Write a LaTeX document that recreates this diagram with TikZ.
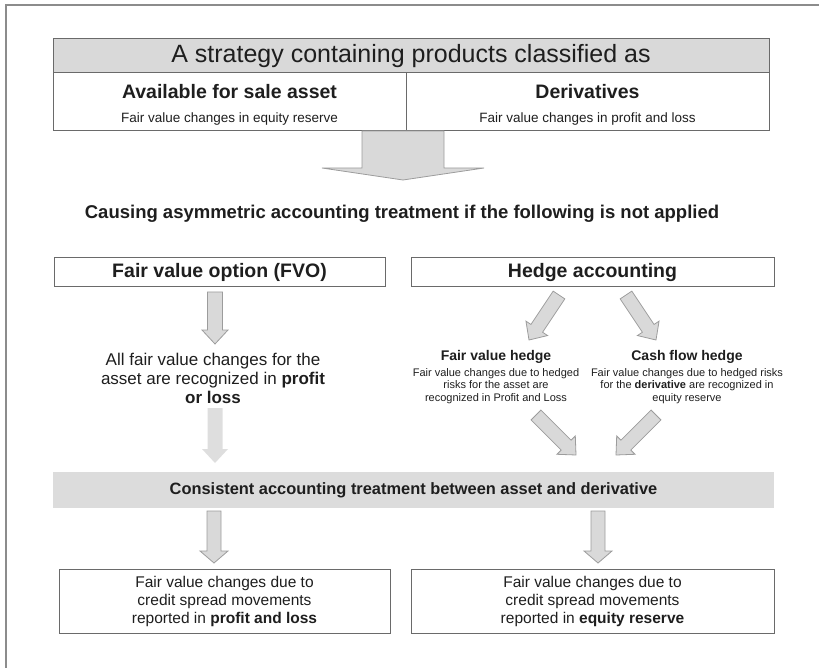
\documentclass[tikz,border=0pt]{standalone}
\usepackage{fontspec}
\setmainfont{Liberation Sans}
\usepackage{xcolor}
\usetikzlibrary{calc,positioning}

\definecolor{frameline}{HTML}{8C8C8C}
\definecolor{boxline}{HTML}{6A6A6A}
\definecolor{headfill}{HTML}{D9D9D9}
\definecolor{bandfill}{HTML}{DCDCDC}
\definecolor{arrowfill}{HTML}{D9D9D9}
\definecolor{arrowline}{HTML}{9C9C9C}
\definecolor{lightfill}{HTML}{DEDEDE}
\definecolor{textcol}{HTML}{1E1E1E}

% block arrow: [style]{start}{end}{half shaft}{half head}{head length}
\newcommand{\blockarr}[6][]{%
  \coordinate (ba-h) at ($(#3)!#6!(#2)$);
  \path[#1] ($(#2)!#4!90:(#3)$) -- ($(ba-h)!#4!90:(#3)$) -- ($(ba-h)!#5!90:(#3)$)
    -- (#3) -- ($(ba-h)!#5!-90:(#3)$) -- ($(ba-h)!#4!-90:(#3)$) -- ($(#2)!#4!-90:(#3)$) -- cycle;
}

\tikzset{
  box/.style={draw=boxline, line width=1pt, inner sep=0pt},
  fatarrow/.style={fill=arrowfill, draw=arrowline, line width=0.8pt, line join=miter},
  softarrow/.style={fill=lightfill},
  boldtext/.style={font=\bfseries\fontsize{#1}{#1}\selectfont},
  plaintext/.style={font=\fontsize{#1}{#1}\selectfont},
}

\begin{document}
\begin{tikzpicture}[x=1pt, y=-1pt, text=textcol]
\useasboundingbox (0,0) rectangle (819,668);
\draw[frameline, line width=1.5pt] (6,668) -- (6,5) -- (819,5);

% products
\node[box, fill=headfill, minimum width=716pt, minimum height=34pt, plaintext=25] (strategy) at (411,56) {A strategy containing products classified as};
\node[box, minimum width=353pt, minimum height=58pt] (afs) at (229.5,102) {};
\node[box, minimum width=363pt, minimum height=58pt] (deriv) at (587.5,102) {};
\node[boldtext=19.5] (afstitle) at (229.5,92) {Available for sale asset};
\node[plaintext=13.5] (afsnote) at (229.5,119) {Fair value changes in equity reserve};
\node[boldtext=19.5] (derivtitle) at (587.5,92) {Derivatives};
\node[plaintext=13.5] (derivnote) at (587.5,119) {Fair value changes in profit and loss};

\coordinate (bigtop) at (403,131);
\coordinate (bigtip) at (403,180);
\blockarr[fatarrow]{bigtop}{bigtip}{41pt}{81pt}{12pt}

\node[boldtext=18.5] (causing) at (402,214) {Causing asymmetric accounting treatment if the following is not applied};

% fair value option
\node[box, minimum width=331pt, minimum height=29pt, boldtext=19.5] (fvo) at (219.5,272.5) {Fair value option (FVO)};
\node[box, minimum width=363pt, minimum height=29pt, boldtext=19.5] (hedge) at (592.5,272.5) {Hedge accounting};

\coordinate (fvotop) at (215,292);
\coordinate (fvotip) at (215,344);
\blockarr[fatarrow]{fvotop}{fvotip}{7.5pt}{13pt}{14pt}

\node[align=center, font=\fontsize{17}{19}\selectfont] (allfv) at (213,378)
  {All fair value changes for the\\asset are recognized in \textbf{profit}\\\textbf{or loss}};

\coordinate (pltop) at (215,408);
\coordinate (pltip) at (215,463);
\blockarr[softarrow]{pltop}{pltip}{7.5pt}{13pt}{14pt}

% hedge accounting
\coordinate (fvhtop) at (559,295);
\coordinate (fvhtip) at (529,340);
\coordinate (cfhtop) at (626,295);
\coordinate (cfhtip) at (656,340);
\blockarr[fatarrow]{fvhtop}{fvhtip}{7pt}{13pt}{14pt}
\blockarr[fatarrow]{cfhtop}{cfhtip}{7pt}{13pt}{14pt}

\node[boldtext=14] (fvhtitle) at (496,357) {Fair value hedge};
\node[align=center, font=\fontsize{11}{12.5}\selectfont] (fvhtext) at (496,386)
  {Fair value changes due to hedged\\risks for the asset are\\recognized in Profit and Loss};
\node[boldtext=14] (cfhtitle) at (687,357) {Cash flow hedge};
\node[align=center, font=\fontsize{11}{12.5}\selectfont] (cfhtext) at (687,386)
  {Fair value changes due to hedged risks\\for the \textbf{derivative} are recognized in\\equity reserve};

\coordinate (fvhout) at (536,415);
\coordinate (fvhend) at (576,455);
\coordinate (cfhout) at (656,415);
\coordinate (cfhend) at (616,455);
\blockarr[fatarrow]{fvhout}{fvhend}{7pt}{13pt}{14pt}
\blockarr[fatarrow]{cfhout}{cfhend}{7pt}{13pt}{14pt}

% result
\node[fill=bandfill, minimum width=721pt, minimum height=36pt, inner sep=0pt, boldtext=16.4] (consistent) at (413.5,490)
  {Consistent accounting treatment between asset and derivative};

\coordinate (pltop2) at (214,511);
\coordinate (pltip2) at (214,563);
\coordinate (eqtop) at (598,511);
\coordinate (eqtip) at (598,563);
\blockarr[fatarrow]{pltop2}{pltip2}{7pt}{14pt}{12pt}
\blockarr[fatarrow]{eqtop}{eqtip}{7pt}{14pt}{12pt}

\node[box, minimum width=331pt, minimum height=64pt, align=center, font=\fontsize{15.5}{18}\selectfont] (plbox) at (224.5,601)
  {Fair value changes due to\\credit spread movements\\reported in \textbf{profit and loss}};
\node[box, minimum width=363pt, minimum height=64pt, align=center, font=\fontsize{15.5}{18}\selectfont] (eqbox) at (592.5,601)
  {Fair value changes due to\\credit spread movements\\reported in \textbf{equity reserve}};
\end{tikzpicture}
\end{document}
